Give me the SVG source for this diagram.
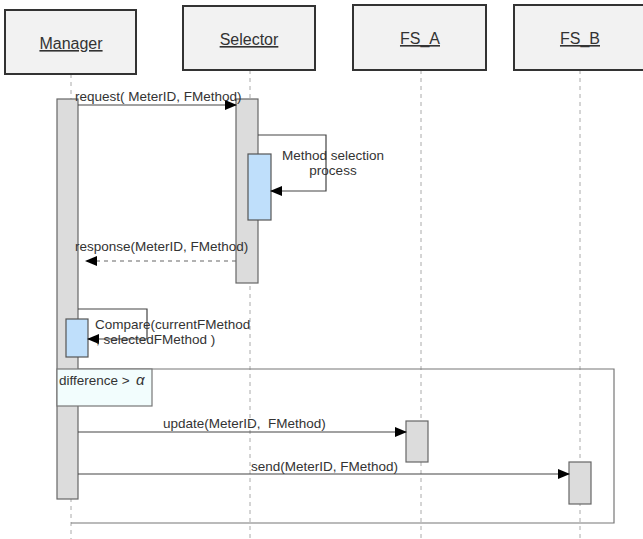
<svg xmlns="http://www.w3.org/2000/svg" width="643" height="539" viewBox="0 0 643 539">
<defs>
<style>
text{font-family:"Liberation Sans",Arial,sans-serif;fill:#333;}
.hdr{fill:#f2f2f2;stroke:#333;stroke-width:2;}
.ht{font-size:16px;text-anchor:middle;text-decoration:underline;}
.life{stroke:#aaa;stroke-width:1;stroke-dasharray:4,4;fill:none;}
.act{fill:#dcdcdc;stroke:#666;stroke-width:1.2;}
.blue{fill:#bfdffb;stroke:#555;stroke-width:1.2;}
.msg{stroke:#444;stroke-width:1.2;fill:none;}
.dash{stroke:#666;stroke-width:1.2;fill:none;stroke-dasharray:4,4;}
.lbl{font-size:13.5px;}
.frame{fill:none;stroke:#777;stroke-width:1.2;}
</style>
<marker id="ah" markerWidth="12" markerHeight="10" refX="11" refY="5" orient="auto" markerUnits="userSpaceOnUse">
<path d="M0,0 L12,5 L0,10 z" fill="#000"/>
</marker>
</defs>
<rect width="643" height="539" fill="#fff"/>

<g id="lifelines">
<line class="life" x1="71" y1="74" x2="71" y2="539"/>
<line class="life" x1="250" y1="70" x2="250" y2="539"/>
<line class="life" x1="421" y1="70" x2="421" y2="539"/>
<line class="life" x1="580" y1="70" x2="580" y2="539"/>
</g>

<g id="Manager"><rect class="hdr" x="5" y="10" width="131" height="64"/><text class="ht" x="71" y="49">Manager</text></g>
<g id="Selector"><rect class="hdr" x="183" y="6" width="132" height="64"/><text class="ht" x="249" y="45">Selector</text></g>
<g id="FS_A"><rect class="hdr" x="353" y="5" width="133" height="65"/><text class="ht" x="420" y="44">FS_A</text></g>
<g id="FS_B"><rect class="hdr" x="514" y="5" width="130" height="65"/><text class="ht" x="580" y="44">FS_B</text></g>

<g id="frame">
<polyline class="frame" points="57,369 614,369 614,523 71,523"/>
</g>

<g id="activations">
<rect id="act-manager" class="act" x="57" y="99" width="21" height="400"/>
<rect id="act-selector" class="act" x="236" y="99" width="22" height="184"/>
<rect id="act-selector-self" class="blue" x="248" y="154" width="23" height="66"/>
<rect id="act-manager-self" class="blue" x="66" y="319" width="22" height="38"/>
<rect id="act-fsa" class="act" x="406" y="421" width="22" height="41"/>
<rect id="act-fsb" class="act" x="569" y="462" width="22" height="42"/>
</g>

<g id="guard">
<rect x="57" y="369" width="95" height="37" fill="#f2fdfd" stroke="#777" stroke-width="1.2"/>
<text class="lbl" x="59" y="385">difference &gt;</text>
<text x="136" y="385" font-family="'Liberation Serif',serif" font-style="italic" font-size="15">α</text>
</g>

<g id="connectors">
<line class="msg" x1="78" y1="105" x2="236" y2="105" marker-end="url(#ah)"/>
<polyline class="msg" points="258,135 326,135 326,191 271,191" marker-end="url(#ah)"/>
<line class="dash" x1="236" y1="261" x2="86" y2="261" marker-end="url(#ah)"/>
<polyline class="msg" points="78,309 147,309 147,339 88,339" marker-end="url(#ah)"/>
<line class="msg" x1="78" y1="432" x2="406" y2="432" marker-end="url(#ah)"/>
<line class="msg" x1="78" y1="474" x2="569" y2="474" marker-end="url(#ah)"/>
</g>

<g id="labels">
<text class="lbl" x="75" y="101">request( MeterID, FMethod)</text>
<text class="lbl" x="333" y="160" text-anchor="middle">Method selection</text>
<text class="lbl" x="333" y="175" text-anchor="middle">process</text>
<text class="lbl" x="75" y="251">response(MeterID, FMethod)</text>
<text class="lbl" x="95" y="329">Compare(currentFMethod</text>
<text class="lbl" x="96" y="344">, selectedFMethod )</text>
<text class="lbl" x="163" y="428">update(MeterID,&#160; FMethod)</text>
<text class="lbl" x="251" y="471">send(MeterID, FMethod)</text>
</g>
</svg>
